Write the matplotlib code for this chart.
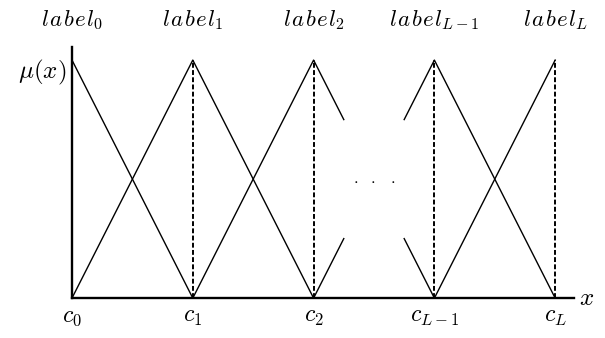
import matplotlib
matplotlib.use("Agg")
import matplotlib.pyplot as plt

plt.rcParams["mathtext.fontset"] = "cm"

# centres of the fuzzy sets and their names
centers = [0, 1, 2, 3, 4]
center_labels = [r"$c_0$", r"$c_1$", r"$c_2$", r"$c_{L-1}$", r"$c_L$"]
set_subscripts = ["0", "1", "2", "L-1", "L"]

# triangular membership functions as vertex lists (broken between c_2 and c_{L-1})
mf_x = [
    [0, 1],
    [0, 1, 2],
    [1, 2, 2.25],
    [2, 2.25],
    [2.75, 3],
    [2.75, 3, 4],
    [3, 4],
]
mf_y = [
    [1, 0],
    [0, 1, 0],
    [0, 1, 0.75],
    [0, 0.25],
    [0.25, 0],
    [0.75, 1, 0],
    [0, 1],
]

# dashed markers at the peaks
peak_x = [1, 2, 3, 4]

fig = plt.figure(figsize=(6.05, 3.38), dpi=100)
ax = fig.add_axes([0.119, 0.118, 0.830, 0.743])

for xs, ys in zip(mf_x, mf_y):
    ax.plot(xs, ys, color="black", lw=1.0)

for px in peak_x:
    ax.plot([px, px], [0, 1], color="black", lw=1.4, linestyle=(0, (2.5, 1.2)))

ax.text(2.5, 0.5, r"$\cdot\ \ \cdot\ \ \cdot$", ha="center", va="center", fontsize=12)

ax.set_xlim(0, 4.157)
ax.set_ylim(0, 1.055)
for side in ("top", "right"):
    ax.spines[side].set_visible(False)
for side in ("left", "bottom"):
    ax.spines[side].set_linewidth(1.7)

ax.set_xticks(centers)
ax.set_xticklabels(center_labels, fontsize=17)
ax.set_yticks([])
ax.tick_params(axis="x", length=0, pad=4)

# "label" set letter by letter, as math italics would be
sp = r"\hspace{0.08}"
for cx, sub in zip(centers, set_subscripts):
    lab = "$" + sp.join("label") + "_{" + sub + "}$"
    ax.text(cx, 1.168, lab, ha="center", va="center", fontsize=16.5)

ax.text(-0.05, 0.95, r"$\mu(x)$", ha="right", va="center", fontsize=18)
ax.text(4.2, 0.0, r"$x$", ha="left", va="center", fontsize=18)

fig.savefig("out.png", dpi=100)
